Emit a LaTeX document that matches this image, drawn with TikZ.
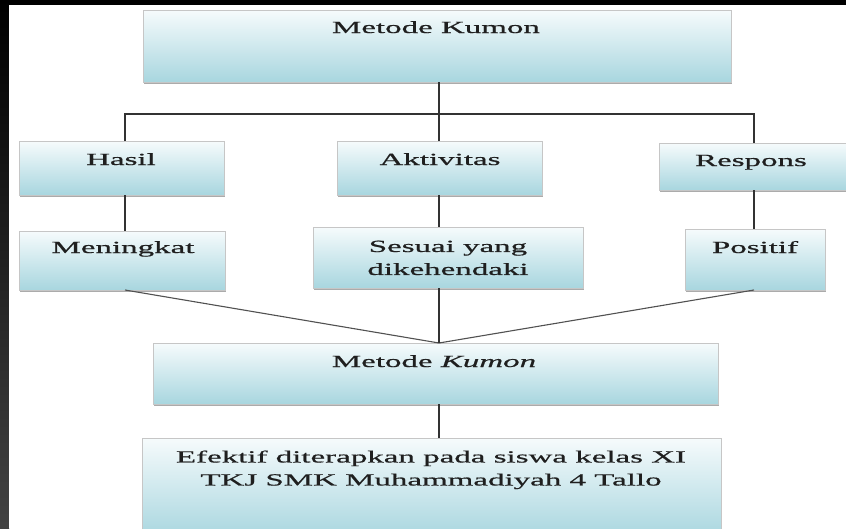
\documentclass[tikz,border=0pt]{standalone}
\usepackage{fontspec}
\setmainfont[FakeStretch=1.94,FakeBold=0.7]{Liberation Serif}
\usetikzlibrary{shadows}
\definecolor{boxblue}{RGB}{168,214,223}
\definecolor{boxtop}{RGB}{246,251,252}
\definecolor{linecol}{RGB}{50,50,50}
\tikzset{
  flowbox/.style={rectangle, anchor=north west, inner sep=0pt, outer sep=0pt,
    top color=boxtop, bottom color=boxblue, draw=gray!45, line width=0.6pt,
    drop shadow={shadow xshift=1.3pt, shadow yshift=-1.6pt, fill=black!60, opacity=0.55}},
  txt/.style={inner sep=0pt, font=\fontsize{17}{23}\selectfont, text=black!88, align=center},
  conn/.style={draw=linecol, line width=1.3pt},
  slant/.style={draw=linecol!85, line width=1.1pt}
}
\begin{document}
\begin{tikzpicture}[x=1pt,y=-1pt]
\useasboundingbox (0,0) rectangle (846,528);
% background
\fill[black] (0,0) rectangle (846,528);
\shade[top color=black, bottom color=black!74] (0,0) rectangle (9,528);
\fill[white] (9,5) rectangle (846,528);

% boxes
\node[flowbox, minimum width=588pt, minimum height=72pt] (top) at (143,10) {};
\node[flowbox, minimum width=205pt, minimum height=54pt] (hasil) at (19,141) {};
\node[flowbox, minimum width=205pt, minimum height=54pt] (aktiv) at (337,141) {};
\node[flowbox, minimum width=192pt, minimum height=47pt] (respons) at (659,143) {};
\node[flowbox, minimum width=206pt, minimum height=59pt] (mening) at (19,231) {};
\node[flowbox, minimum width=270pt, minimum height=61pt] (sesuai) at (313,227) {};
\node[flowbox, minimum width=140pt, minimum height=61pt] (positif) at (685,229) {};
\node[flowbox, minimum width=565pt, minimum height=61pt] (kumon) at (153,343) {};
\node[flowbox, minimum width=579pt, minimum height=100pt] (efektif) at (142,438) {};

% texts
\node[txt, anchor=base] (ttop) at (436,33) {Metode Kumon};
\node[txt, anchor=base] (thasil) at (121,165) {Hasil};
\node[txt, anchor=base] (taktiv) at (440,165) {Aktivitas};
\node[txt, anchor=base] (tresp) at (751,166) {Respons};
\node[txt, anchor=base] (tmen) at (123,253) {Meningkat};
\node[txt, anchor=north] (tses) at (448,240.5) {Sesuai yang\\dikehendaki};
\node[txt, anchor=base] (tpos) at (755,253) {Positif};
\node[txt, anchor=base] (tkum) at (434,367) {Metode \textit{Kumon}};
\node[txt, anchor=north] (tefek) at (431,450.3) {Efektif diterapkan pada siswa kelas XI\\TKJ SMK Muhammadiyah 4 Tallo};

% connectors
\coordinate (bus) at (0,114);
\coordinate (cL) at (125,0);
\coordinate (cM) at (439,0);
\coordinate (cR) at (754,0);
\draw[conn] (cM |- top.south) -- (cM |- bus);
\draw[conn] (cL |- hasil.north) -- (cL |- bus) -- (cR |- bus) -- (cR |- respons.north);
\draw[conn] (cM |- bus) -- (cM |- aktiv.north);
\draw[conn] (cL |- hasil.south) -- (cL |- mening.north);
\draw[conn] (cM |- aktiv.south) -- (cM |- sesuai.north);
\draw[conn] (cR |- respons.south) -- (cR |- positif.north);
\draw[slant] (cL |- mening.south) -- (cM |- kumon.north);
\draw[slant] (cR |- positif.south) -- (cM |- kumon.north);
\draw[conn] (cM |- sesuai.south) -- (cM |- kumon.north);
\draw[conn] (cM |- kumon.south) -- (cM |- efektif.north);
\end{tikzpicture}
\end{document}
